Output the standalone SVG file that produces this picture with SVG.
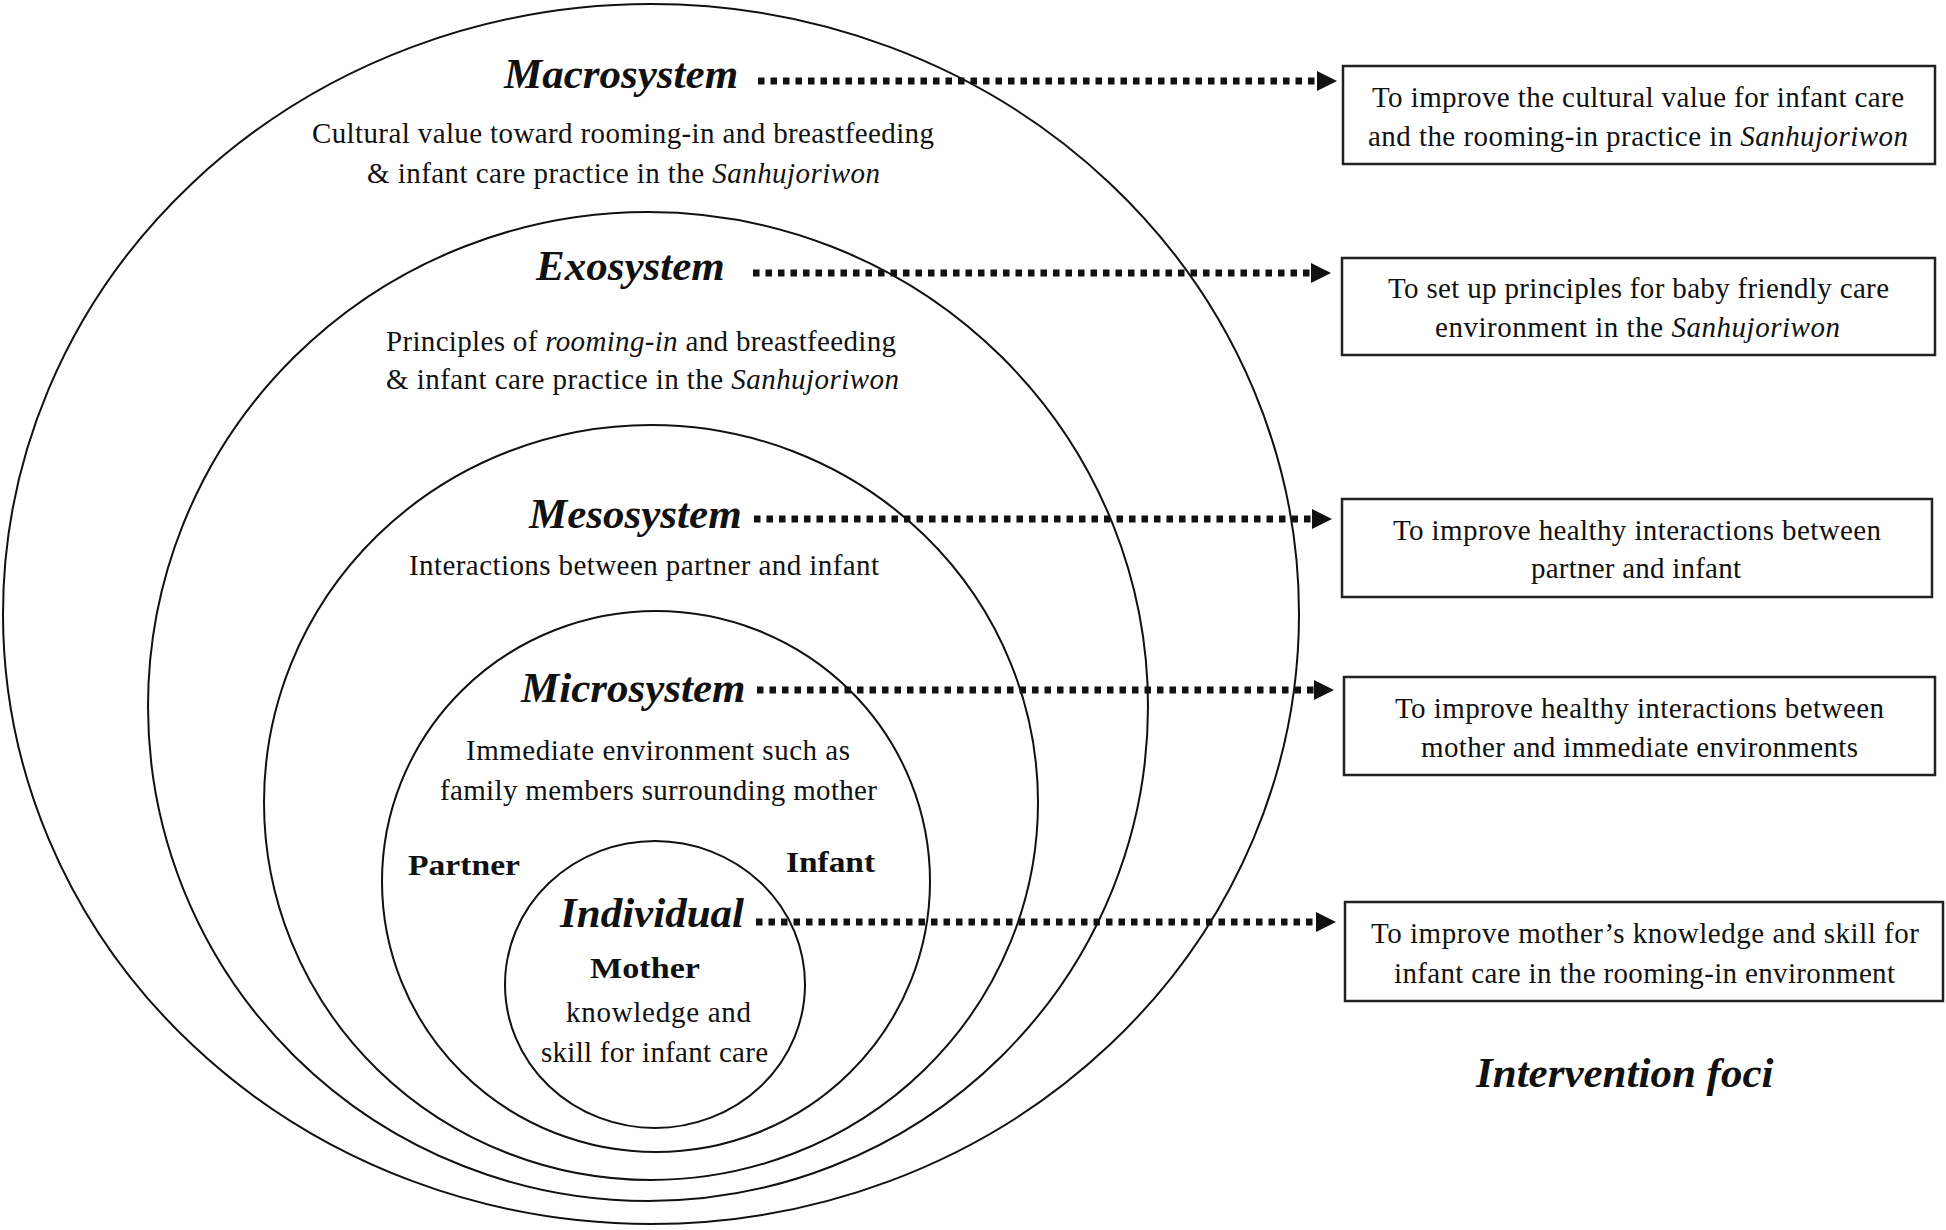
<svg xmlns="http://www.w3.org/2000/svg" width="1946" height="1230" viewBox="0 0 1946 1230">
<style>
  .ring { fill: none; stroke: #111; stroke-width: 2; }
  .box { fill: #fff; stroke: #222; stroke-width: 2.5; }
  .hdr { font-family: "Liberation Serif", "Times New Roman", serif; font-weight: bold; font-style: italic; font-size: 43px; fill: #111; }
  .body { font-family: "Liberation Serif", "Times New Roman", serif; font-size: 29px; fill: #111; }
  .bold { font-family: "Liberation Serif", "Times New Roman", serif; font-weight: bold; font-size: 30px; fill: #111; }
  .it { font-style: italic; }
  .dot { fill: none; stroke: #111; stroke-width: 7; stroke-dasharray: 6.5 6; }
</style>
<defs>
  <marker id="head" viewBox="0 0 20 20" refX="0" refY="10" markerWidth="20" markerHeight="20" markerUnits="userSpaceOnUse" orient="auto">
    <path d="M0,0 L20,10 L0,20 Z" fill="#111"/>
  </marker>
</defs>

<g id="macrosystem">
  <ellipse class="ring" cx="651" cy="614" rx="648" ry="610"/>
  <text class="hdr" x="504" y="88">Macrosystem</text>
  <text class="body" x="312" y="143" textLength="622" lengthAdjust="spacing">Cultural value toward rooming-in and breastfeeding</text>
  <text class="body" x="367" y="183" textLength="513" lengthAdjust="spacing">&amp; infant care practice in the <tspan class="it">Sanhujoriwon</tspan></text>
</g>

<g id="exosystem">
  <ellipse class="ring" cx="648" cy="706.5" rx="500" ry="494.5"/>
  <text class="hdr" x="536" y="280">Exosystem</text>
  <text class="body" x="386" y="351" textLength="510" lengthAdjust="spacing">Principles of <tspan class="it">rooming-in</tspan> and breastfeeding</text>
  <text class="body" x="386" y="389" textLength="513" lengthAdjust="spacing">&amp; infant care practice in the <tspan class="it">Sanhujoriwon</tspan></text>
</g>

<g id="mesosystem">
  <ellipse class="ring" cx="651" cy="802.5" rx="387" ry="377.5"/>
  <text class="hdr" x="529" y="528">Mesosystem</text>
  <text class="body" x="409" y="575" textLength="470" lengthAdjust="spacing">Interactions between partner and infant</text>
</g>

<g id="microsystem">
  <ellipse class="ring" cx="656" cy="881.5" rx="274" ry="270.5"/>
  <text class="hdr" x="521" y="702">Microsystem</text>
  <text class="body" x="466" y="760" textLength="384" lengthAdjust="spacing">Immediate environment such as</text>
  <text class="body" x="440" y="800" textLength="437" lengthAdjust="spacing">family members surrounding mother</text>
  <text class="bold" x="408" y="875" textLength="112" lengthAdjust="spacingAndGlyphs">Partner</text>
  <text class="bold" x="786" y="872" textLength="89" lengthAdjust="spacingAndGlyphs">Infant</text>
</g>

<g id="individual">
  <ellipse class="ring" cx="655" cy="984.5" rx="150" ry="143.5"/>
  <text class="hdr" x="560" y="927">Individual</text>
  <text class="bold" x="590" y="978" textLength="110" lengthAdjust="spacingAndGlyphs">Mother</text>
  <text class="body" x="566" y="1022" textLength="185" lengthAdjust="spacing">knowledge and</text>
  <text class="body" x="541" y="1062" textLength="227" lengthAdjust="spacing">skill for infant care</text>
</g>

<g id="connectors">
  <line class="dot" x1="758" y1="81" x2="1317" y2="81" marker-end="url(#head)"/>
  <line class="dot" x1="753" y1="273" x2="1311" y2="273" marker-end="url(#head)"/>
  <line class="dot" x1="754" y1="519" x2="1312" y2="519" marker-end="url(#head)"/>
  <line class="dot" x1="757" y1="690" x2="1314" y2="690" marker-end="url(#head)"/>
  <line class="dot" x1="756" y1="922" x2="1316" y2="922" marker-end="url(#head)"/>
</g>

<g id="focus-macro">
  <rect class="box" x="1343" y="66" width="592" height="98"/>
  <text class="body" x="1372" y="107" textLength="532" lengthAdjust="spacing">To improve the cultural value for infant care</text>
  <text class="body" x="1368" y="146" textLength="540" lengthAdjust="spacing">and the rooming-in practice in <tspan class="it">Sanhujoriwon</tspan></text>
</g>

<g id="focus-exo">
  <rect class="box" x="1342" y="258" width="593" height="97"/>
  <text class="body" x="1388" y="298" textLength="501" lengthAdjust="spacing">To set up principles for baby friendly care</text>
  <text class="body" x="1435" y="337" textLength="405" lengthAdjust="spacing">environment in the <tspan class="it">Sanhujoriwon</tspan></text>
</g>

<g id="focus-meso">
  <rect class="box" x="1342" y="499" width="590" height="98"/>
  <text class="body" x="1393" y="540" textLength="488" lengthAdjust="spacing">To improve healthy interactions between</text>
  <text class="body" x="1531" y="578" textLength="210" lengthAdjust="spacing">partner and infant</text>
</g>

<g id="focus-micro">
  <rect class="box" x="1344" y="677" width="591" height="98"/>
  <text class="body" x="1395" y="718" textLength="489" lengthAdjust="spacing">To improve healthy interactions between</text>
  <text class="body" x="1421" y="757" textLength="437" lengthAdjust="spacing">mother and immediate environments</text>
</g>

<g id="focus-individual">
  <rect class="box" x="1345" y="902" width="598" height="99"/>
  <text class="body" x="1371" y="943" textLength="548" lengthAdjust="spacing">To improve mother’s knowledge and skill for</text>
  <text class="body" x="1394" y="983" textLength="501" lengthAdjust="spacing">infant care in the rooming-in environment</text>
</g>

<g id="intervention-foci-title">
  <text class="hdr" x="1476" y="1087">Intervention foci</text>
</g>
</svg>
